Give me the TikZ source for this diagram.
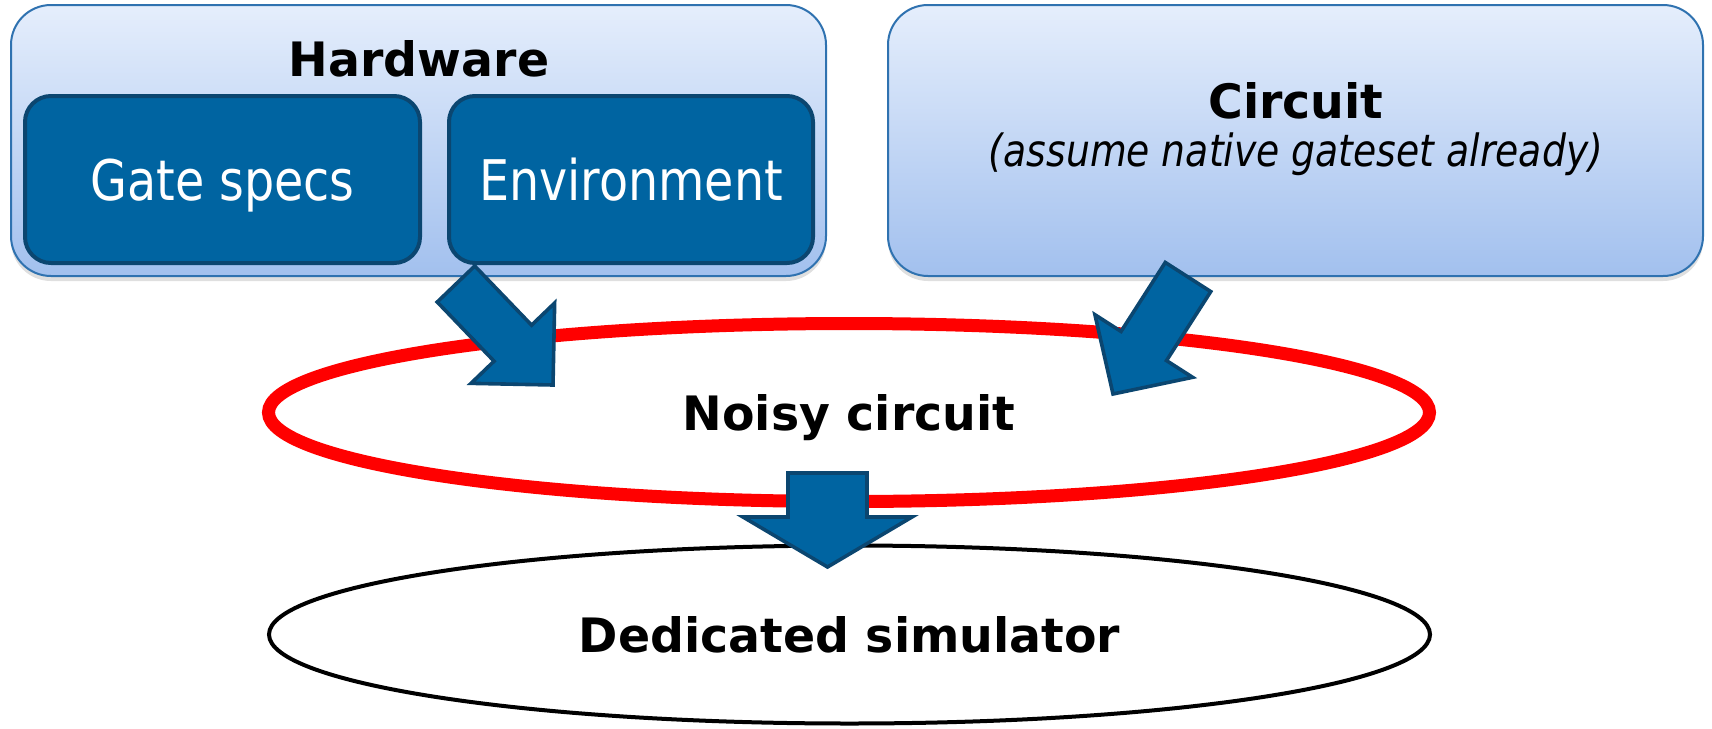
\documentclass[tikz,border=0pt]{standalone}
\usepackage{fontspec}
\setmainfont{DejaVu Sans}
\newfontfamily\narrowfont{DejaVu Sans}[FakeStretch=0.85]
\usetikzlibrary{calc,shapes.geometric,shadows}

\definecolor{panelTop}{HTML}{E5EEFC}
\definecolor{panelBot}{HTML}{A2C0EE}
\definecolor{panelLine}{HTML}{2F72B0}
\definecolor{boxFill}{HTML}{0064A1}
\definecolor{boxLine}{HTML}{0B4670}

% fat arrow from #1 to #2: shaft half width #3, head half width #4, head length #5
\newcommand\blockarrow[5]{%
\coordinate (ah) at ($(#2)!#5!(#1)$);
\draw[blockarr]
($(#1)!#3!90:(#2)$) -- ($(ah)!#3!90:(#2)$) -- ($(ah)!#4!90:(#2)$) --
(#2) --
($(ah)!#4!-90:(#2)$) -- ($(ah)!#3!-90:(#2)$) -- ($(#1)!#3!-90:(#2)$) -- cycle;
}

\tikzset{
panel/.style={draw=panelLine, line width=1pt, rounded corners=20pt,
  top color=panelTop, bottom color=panelBot,
  minimum width=407.5pt, minimum height=135.5pt,
  drop shadow={shadow xshift=0pt, shadow yshift=-2.5pt, opacity=.25}},
part/.style={draw=boxLine, fill=boxFill, line width=2pt, rounded corners=13pt,
  minimum height=83.5pt, text=white, text depth=0pt,
  font=\narrowfont\fontsize{28}{34}\selectfont},
title/.style={font=\fontsize{23.7}{28}\selectfont\bfseries},
stage/.style={ellipse, minimum width=580.5pt, minimum height=89pt, text depth=0pt,
  font=\fontsize{23.7}{28}\selectfont\bfseries},
blockarr/.style={draw=boxLine, fill=boxFill, line width=1.8pt, line join=miter}
}

\begin{document}
\begin{tikzpicture}[x=0.5pt, y=-0.5pt]
\useasboundingbox (0,0) rectangle (1712,728);

% top panels
\node[panel] (hw) at (418.5,140.5) {};
\node[title, anchor=base] (hwlabel) at (419,76) {Hardware};
\node[part, minimum width=197.5pt] (gate) at (222.5,179.5) {Gate specs};
\node[part, minimum width=182pt] (env) at (631,179.5) {Environment};

\node[panel] (circ) at (1295.5,140.5) {};
\node[title, anchor=base] (circlabel) at (1296,118) {Circuit};
\node[anchor=base, font=\narrowfont\itshape\fontsize{22.2}{27}\selectfont]
  (circnote) at (1296,166) {(assume native gateset already)};

% stages
\node[stage, draw=red, line width=6.5pt] (noisy) at (849,412.5) {Noisy circuit};
\node[stage, draw=black, line width=2pt] (sim) at (849.5,634.5) {Dedicated simulator};

% arrow ends
\coordinate (envtail) at (456,284);
\coordinate (noisyleft) at (553,385);
\coordinate (circtail) at (1188,277);
\coordinate (noisyright) at (1113,394);
\coordinate (noisytail) at (827.5,473);
\coordinate (simtop) at (827.5,567);

\blockarrow{envtail}{noisyleft}{13pt}{29pt}{29pt}
\blockarrow{circtail}{noisyright}{13.5pt}{29pt}{28.5pt}
\blockarrow{noisytail}{simtop}{19.75pt}{42.25pt}{25pt}

\end{tikzpicture}
\end{document}
